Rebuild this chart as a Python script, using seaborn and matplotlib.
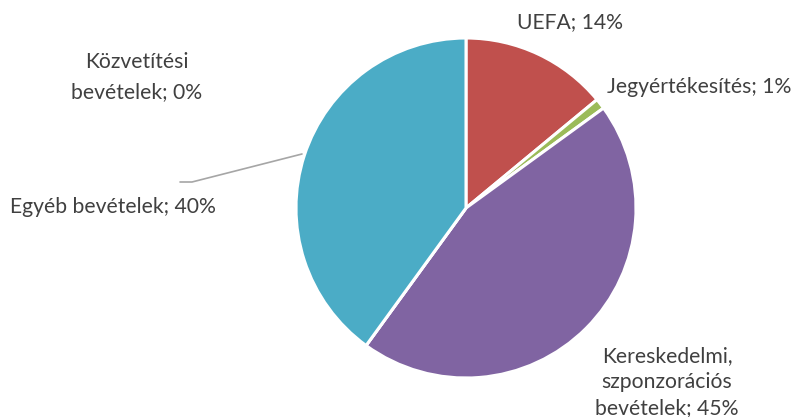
import matplotlib
matplotlib.use("Agg")
import matplotlib.pyplot as plt
import seaborn as sns

categories = ["UEFA", "Jegyértékesítés", "Kereskedelmi,\nszponzorációs\nbevételek",
              "Közvetítési\nbevételek", "Egyéb bevételek"]
shares = [14, 1, 45, 0, 40]
palette = ["#C0504D", "#9BBB59", "#8064A2", "#1F497D", "#4BACC6"]

sns.set_theme(style="white")
plt.rcParams["font.family"] = ["Lato", "DejaVu Sans"]

fig = plt.figure(figsize=(7.98, 4.17), dpi=100, facecolor="w")
ax = fig.add_axes([0, 0, 1, 1])

ax.pie(shares, colors=palette, startangle=90, counterclock=False,
       center=(466, 209), radius=170, frame=True,
       wedgeprops=dict(edgecolor="white", linewidth=2.2))
ax.set_xlim(0, 798)
ax.set_ylim(0, 417)
ax.set_aspect("equal")
ax.axis("off")

txt = dict(color="#404040", fontsize=15.2, multialignment="center")
labels = [f"{c}; {v}%" for c, v in zip(categories, shares)]
ax.text(570, 395, labels[0], ha="center", va="center", **txt)
ax.text(607, 330, labels[1], ha="left", va="center", **txt)
ax.text(667, 35, labels[2], ha="center", va="center", linespacing=1.4, **txt)
ax.text(137, 340, labels[3], ha="center", va="center", linespacing=1.6, **txt)
ax.text(10, 210, labels[4], ha="left", va="center", **txt)

# leader line for Egyéb bevételek
ax.plot([180, 192, 302], [235, 235, 263], color="#A6A6A6", lw=1.2)

fig.savefig("out.png", dpi=100, facecolor="w")
